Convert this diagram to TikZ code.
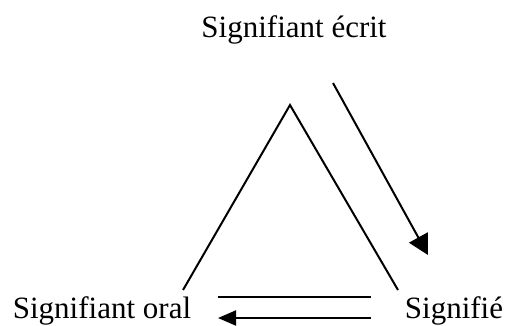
\documentclass[tikz,border=0pt]{standalone}
\usepackage{fontspec}
\setmainfont{Liberation Serif}
\usetikzlibrary{arrows.meta}
\begin{document}
\begin{tikzpicture}[x=1pt,y=-1pt,
  lbl/.style={inner sep=0pt,anchor=base,font=\fontsize{31}{36}\selectfont},
  ln/.style={line width=2pt},
  arrbig/.style={line width=2pt,-{Triangle[length=20pt,width=21pt]}},
  arrsmall/.style={line width=2pt,-{Triangle[length=18pt,width=15pt]}}]
\useasboundingbox (0,0) rectangle (510,325);
\node[lbl] (ecrit) at (294,37) {Signifiant écrit};
\node[lbl] (oral) at (102,318) {Signifiant oral};
\node[lbl] (signifie) at (454,318) {Signifié};
\coordinate (apex) at (290,105);
\coordinate (tl) at (183,290);
\coordinate (tr) at (398,290);
\draw[ln] (tl) -- (apex) -- (tr);
\coordinate (a1) at (333,83);
\coordinate (a2) at (428,255);
\draw[arrbig] (a1) -- (a2);
\coordinate (b1) at (218,297);
\coordinate (b2) at (371,297);
\draw[ln] (b1) -- (b2);
\coordinate (c1) at (371,318);
\coordinate (c2) at (218,318);
\draw[arrsmall] (c1) -- (c2);
\end{tikzpicture}
\end{document}
